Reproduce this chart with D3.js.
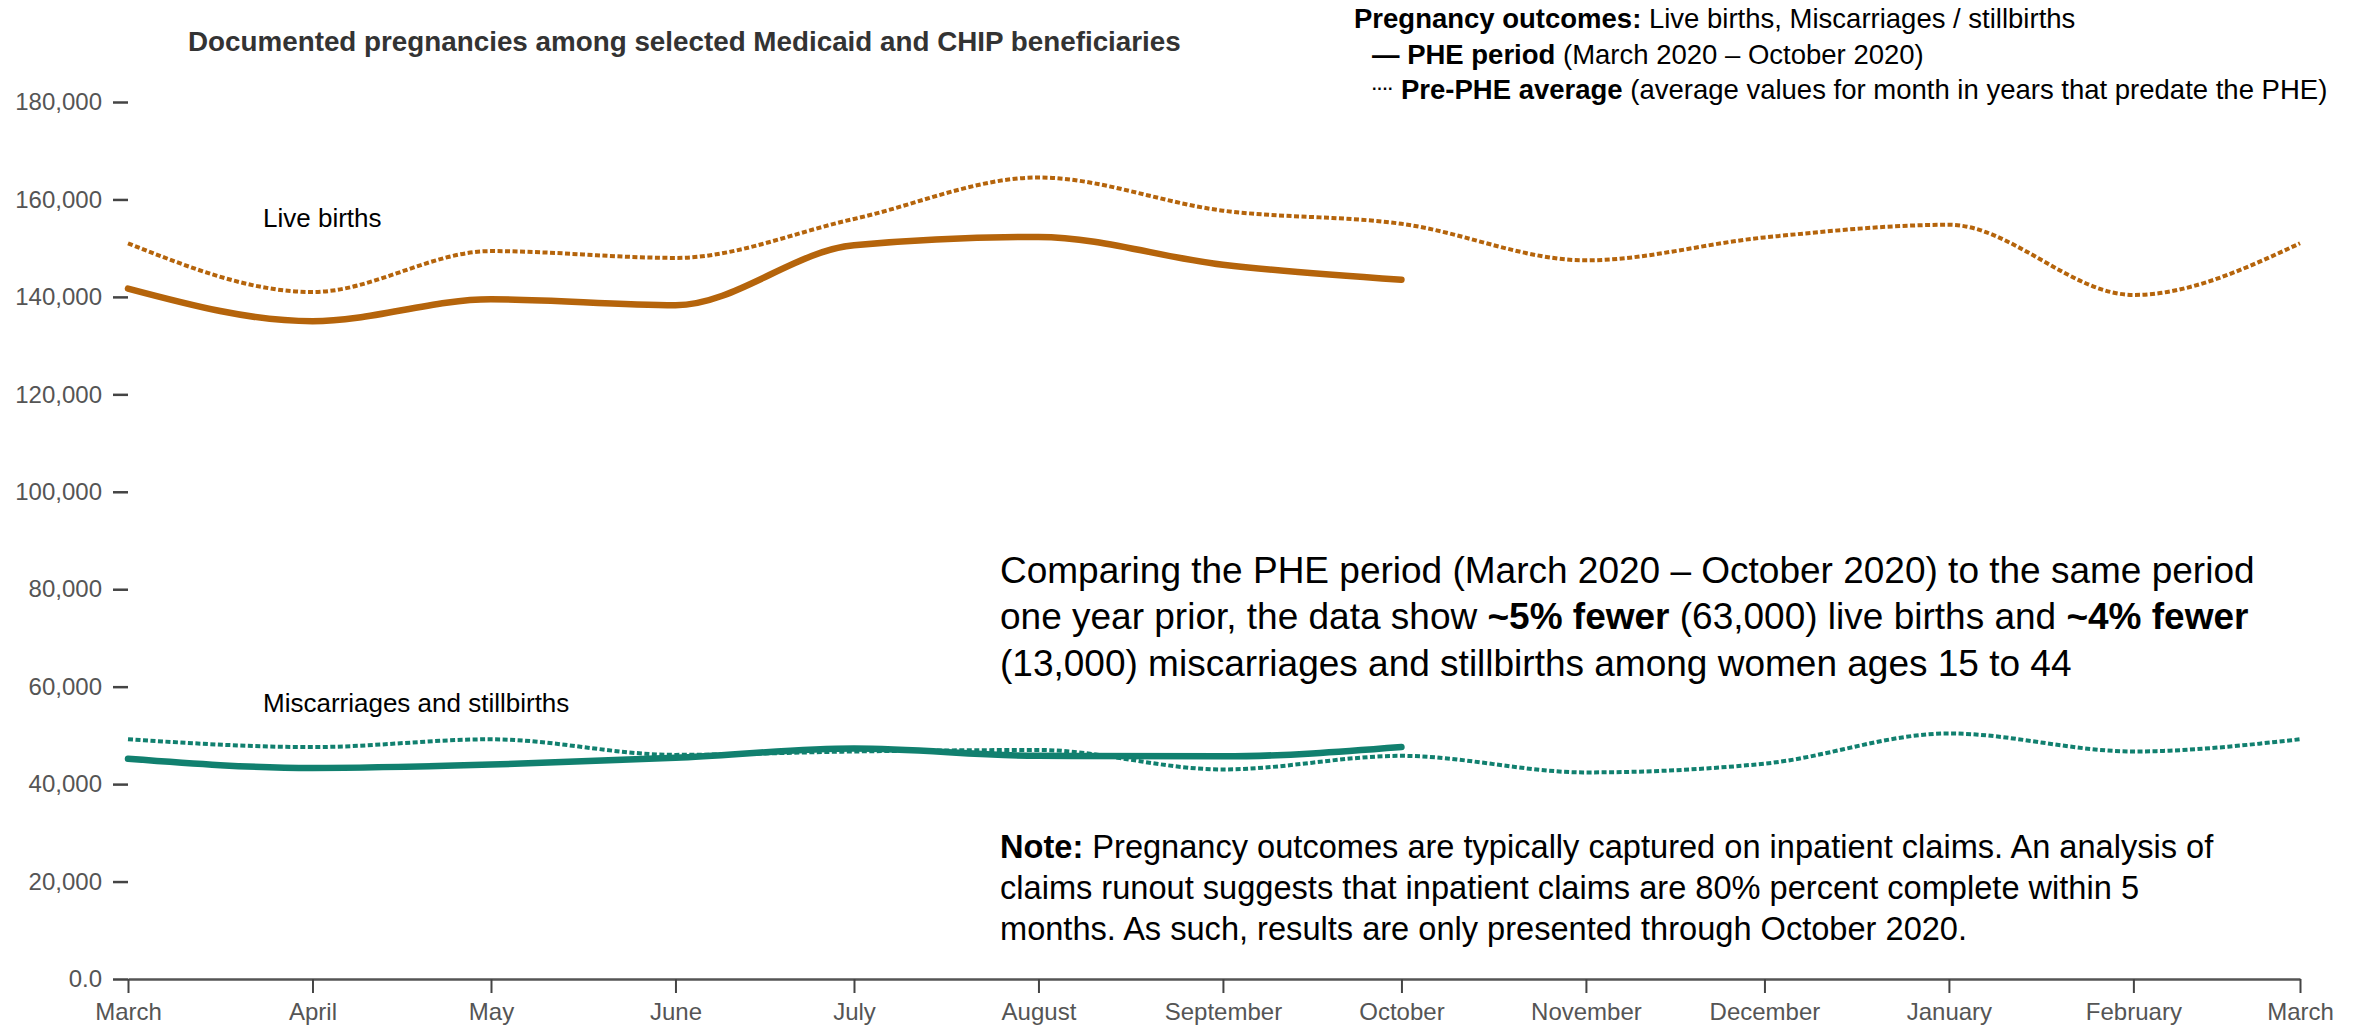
<!DOCTYPE html>
<html>
<head>
<meta charset="utf-8">
<script src="https://cdn.jsdelivr.net/npm/d3@7"></script>
<style>
  html, body { margin: 0; padding: 0; background: #fff; }
  svg { display: block; font-family: "Liberation Sans", Arial, Helvetica, sans-serif; }
</style>
</head>
<body>
<svg id="chart" width="2361" height="1027"></svg>
<script>
// ---------------- data ----------------
const monthLabels = ["March","April","May","June","July","August","September","October","November","December","January","February","March"];
const monthDates = ["2020-03-01","2020-04-01","2020-05-01","2020-06-01","2020-07-01","2020-08-01","2020-09-01","2020-10-01","2020-11-01","2020-12-01","2021-01-01","2021-02-01","2021-03-01"];
const yTicks = [0, 20000, 40000, 60000, 80000, 100000, 120000, 140000, 160000, 180000];

// Live births
const liveBirthsPHE = [141700, 135000, 139500, 138300, 150600, 152300, 146600, 143500];
const liveBirthsPre = [151000, 141000, 149400, 148000, 156000, 164500, 157700, 155000, 147500, 152200, 154800, 140400, 151000];
// Miscarriages and stillbirths
const miscPHE = [45200, 43300, 44000, 45400, 47300, 45800, 45700, 47600];
const miscPre = [49200, 47600, 49200, 46000, 46700, 47000, 43000, 45800, 42400, 44200, 50400, 46700, 49200];

const seriesLabels = ["Live births", "Miscarriages and stillbirths"];

// ---------------- layout ----------------
const svg = d3.select("#chart");
const parse = d3.timeParse("%Y-%m-%d");
const dates = monthDates.map(parse);

const x = d3.scaleTime().domain([dates[0], dates[dates.length - 1]]).range([128, 2300]);
const y = d3.scaleLinear().domain([0, 180000]).range([979, 102]);

const brown = "#b5640b";
const teal = "#11806f";

// y axis
const yAxis = d3.axisLeft(y).tickValues(yTicks).tickSize(15).tickPadding(11)
  .tickFormat(d => d === 0 ? "0.0" : d3.format(",")(d));
const gy = svg.append("g").attr("transform", "translate(128,0)").call(yAxis);
gy.select(".domain").remove();
gy.selectAll(".tick line").attr("stroke", "#444").attr("stroke-width", 2.5);
gy.selectAll(".tick text").attr("fill", "#555").style("font-size", "24px").style("font-family", "'Liberation Sans', Arial, sans-serif");

// x axis
const xAxis = d3.axisBottom(x).tickValues(dates).tickSize(14).tickSizeOuter(0).tickPadding(10)
  .tickFormat((d, i) => monthLabels[i]);
const gx = svg.append("g").attr("transform", "translate(0,979)").call(xAxis);
gx.select(".domain").attr("stroke", "#555").attr("stroke-width", 2.5);
gx.selectAll(".tick line").attr("stroke", "#444").attr("stroke-width", 2);
gx.selectAll(".tick text").attr("fill", "#555").style("font-size", "24px").style("font-family", "'Liberation Sans', Arial, sans-serif");

// lines
const line = d3.line()
  .x((d, i) => x(dates[i]))
  .y(d => y(d))
  .curve(d3.curveMonotoneX);

function drawLine(values, color, dashed) {
  const p = svg.append("path")
    .datum(values)
    .attr("fill", "none")
    .attr("stroke", color)
    .attr("d", line);
  if (dashed) {
    p.attr("stroke-width", 4).attr("stroke-dasharray", "5,2.5");
  } else {
    p.attr("stroke-width", 6.5).attr("stroke-linecap", "round");
  }
}
drawLine(liveBirthsPre, brown, true);
drawLine(liveBirthsPHE, brown, false);
drawLine(miscPre, teal, true);
drawLine(miscPHE, teal, false);

// series labels
svg.append("text").attr("x", 263).attr("y", 227).style("font-size", "26px").attr("fill", "#000").text(seriesLabels[0]);
svg.append("text").attr("x", 263).attr("y", 712).style("font-size", "26px").attr("fill", "#000").text(seriesLabels[1]);

// title
svg.append("text").attr("x", 188).attr("y", 51)
  .style("font-size", "27.8px").style("font-weight", "bold").attr("fill", "#333")
  .text("Documented pregnancies among selected Medicaid and CHIP beneficiaries");

// helper for mixed runs
function richLine(x0, y0, size, runs) {
  const t = svg.append("text").attr("x", x0).attr("y", y0).style("font-size", size + "px").attr("fill", "#000");
  runs.forEach(r => {
    const s = t.append("tspan").style("font-weight", r[1] ? "bold" : "normal").text(r[0]);
    if (r[2]) s.style("font-size", r[2] + "px");
    if (r[3]) s.attr("dy", r[3]);
  });
  return t;
}

// legend
richLine(1354, 28, 27.5, [["Pregnancy outcomes:", true], [" Live births, Miscarriages / stillbirths", false]]);
richLine(1372, 64, 27.5, [["\u2014 PHE period", true], [" (March 2020 \u2013 October 2020)", false]]);
richLine(1372, 99, 27.5, [["\u00b7\u00b7\u00b7\u00b7", true, 16, -5], [" Pre-PHE average", true, null, 5], [" (average values for month in years that predate the PHE)", false]]);

// annotation
richLine(1000, 583, 37, [["Comparing the PHE period (March 2020 \u2013 October 2020) to the same period", false]]);
richLine(1000, 629, 37, [["one year prior, the data show ", false], ["~5% fewer", true], [" (63,000) live births and ", false], ["~4% fewer", true]]);
richLine(1000, 676, 37, [["(13,000) miscarriages and stillbirths among women ages 15 to 44", false]]);

// note
richLine(1000, 858, 32.6, [["Note:", true], [" Pregnancy outcomes are typically captured on inpatient claims. An analysis of", false]]);
richLine(1000, 899, 32.6, [["claims runout suggests that inpatient claims are 80% percent complete within 5", false]]);
richLine(1000, 940, 32.6, [["months. As such, results are only presented through October 2020.", false]]);
</script>
</body>
</html>
